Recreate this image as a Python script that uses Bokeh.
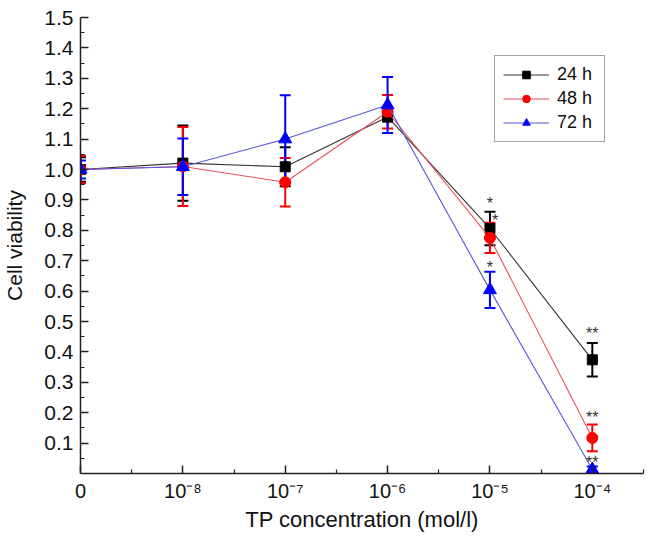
from bokeh.plotting import figure
from bokeh.models import (ColumnDataSource, Whisker, TeeHead, FixedTicker, Legend,
                          LegendItem, Range1d)
from bokeh.core.properties import value
from bokeh.embed import file_html
from bokeh.resources import INLINE

# ---- data ----
x_pos = [0, 1, 2, 3, 4, 5]
x_labels = ["0", "10\u207b\u2078", "10\u207b\u2077", "10\u207b\u2076", "10\u207b\u2075", "10\u207b\u2074"]

v24 = [1.00, 1.021, 1.009, 1.173, 0.806, 0.374]
e24 = [0.040, 0.124, 0.064, 0.015, 0.055, 0.055]
v48 = [1.00, 1.010, 0.958, 1.190, 0.775, 0.117]
e48 = [0.045, 0.130, 0.080, 0.055, 0.050, 0.044]
v72 = [1.00, 1.009, 1.100, 1.212, 0.604, 0.013]
e72 = [0.030, 0.093, 0.144, 0.092, 0.060, 0.010]

series_names = ["24 h", "48 h", "72 h"]

star_x = [4, 4.05, 4, 5, 5, 5]
star_y = [0.899, 0.843, 0.689, 0.470, 0.194, 0.046]
star_txt = ["*", "*", "*", "**", "**", "**"]

y_ticks = [0.1, 0.2, 0.3, 0.4, 0.5, 0.6, 0.7, 0.8, 0.9, 1.0, 1.1, 1.2, 1.3, 1.4, 1.5]
y_minor = [0.05, 0.15, 0.25, 0.35, 0.45, 0.55, 0.65, 0.75, 0.85, 0.95,
           1.05, 1.15, 1.25, 1.35, 1.45]
x_minor = [0.5, 1.5, 2.5, 3.5, 4.5, 5.5]

FONT = "Liberation Sans"

p = figure(width=645, height=534, x_range=Range1d(0, 5.5), y_range=Range1d(0, 1.5),
           output_backend="svg", toolbar_location=None,
           min_border_left=79, min_border_right=2, min_border_top=17, min_border_bottom=60)
p.outline_line_color = None
p.xgrid.visible = False
p.ygrid.visible = False
p.background_fill_color = "white"

# axes
p.xaxis.ticker = FixedTicker(ticks=x_pos, minor_ticks=x_minor)
p.xaxis.major_label_overrides = {i: lab for i, lab in zip(x_pos, x_labels)}
p.yaxis.ticker = FixedTicker(ticks=y_ticks, minor_ticks=y_minor)
p.yaxis.major_label_overrides = {t: f"{t:.1f}" for t in y_ticks}

for ax in (p.xaxis[0], p.yaxis[0]):
    ax.axis_line_color = "#222222"
    ax.axis_line_width = 1.5
    ax.major_tick_line_color = "#222222"
    ax.minor_tick_line_color = "#222222"
    ax.major_tick_line_width = 1.5
    ax.minor_tick_line_width = 1.2
    ax.major_tick_in = 8
    ax.major_tick_out = 0
    ax.minor_tick_in = 4
    ax.minor_tick_out = 0
    ax.major_label_text_font = FONT
    ax.major_label_text_color = "#111111"
    ax.axis_label_text_font = FONT
    ax.axis_label_text_font_style = "normal"
    ax.axis_label_text_color = "#111111"

p.xaxis.major_label_text_font_size = "20px"
p.yaxis.major_label_text_font_size = "21px"
p.xaxis.major_label_standoff = 6
p.yaxis.major_label_standoff = 7
p.xaxis.axis_label = "TP concentration (mol/l)"
p.xaxis.axis_label_text_font_size = "22px"
p.xaxis.axis_label_standoff = 2
p.yaxis.axis_label = "Cell viability"
p.yaxis.axis_label_text_font_size = "21px"
p.yaxis.axis_label_standoff = 15

colors = ["black", "#ff0000", "#0000ff"]
line_colors = ["#333333", "#e8505a", "#5555dd"]
vals = [v24, v48, v72]
errs = [e24, e48, e72]
markers = ["square", "circle", "triangle"]
sizes = [10, 11, 13]

items = []
for name, vv, ee, col, lcol, mk, sz in zip(series_names, vals, errs, colors, line_colors, markers, sizes):
    src = ColumnDataSource(dict(x=x_pos, y=vv,
                                lo=[a - b for a, b in zip(vv, ee)],
                                hi=[a + b for a, b in zip(vv, ee)]))
    ln = p.line("x", "y", source=src, line_color=lcol, line_width=1.1)
    w = Whisker(source=src, base="x", lower="lo", upper="hi",
                line_color=col, line_width=2,
                upper_head=TeeHead(size=11, line_color=col, line_width=2),
                lower_head=TeeHead(size=11, line_color=col, line_width=2))
    p.add_layout(w)
    sc = p.scatter("x", "y", source=src, marker=mk, size=sz,
                   fill_color=col, line_color=col)
    items.append(LegendItem(label=name, renderers=[ln, sc]))

star_src = ColumnDataSource(dict(x=star_x, y=star_y, t=star_txt))
p.text("x", "y", text="t", source=star_src, text_font=value(FONT),
       text_font_size="16px", text_color="#333333", text_align="center",
       text_baseline="middle", y_offset=3)

legend = Legend(items=items, location=(414, 331))
legend.border_line_color = "#444444"
legend.border_line_width = 1
legend.background_fill_color = "white"
legend.background_fill_alpha = 1
legend.padding = 8
legend.spacing = 3
legend.margin = 0
legend.glyph_width = 46
legend.glyph_height = 19
legend.label_height = 19
legend.label_width = 39
legend.label_standoff = 8
legend.label_text_font = FONT
legend.label_text_font_size = "18px"
legend.label_text_color = "#111111"
p.add_layout(legend)

open("out.html", "w").write(file_html(p, INLINE))
